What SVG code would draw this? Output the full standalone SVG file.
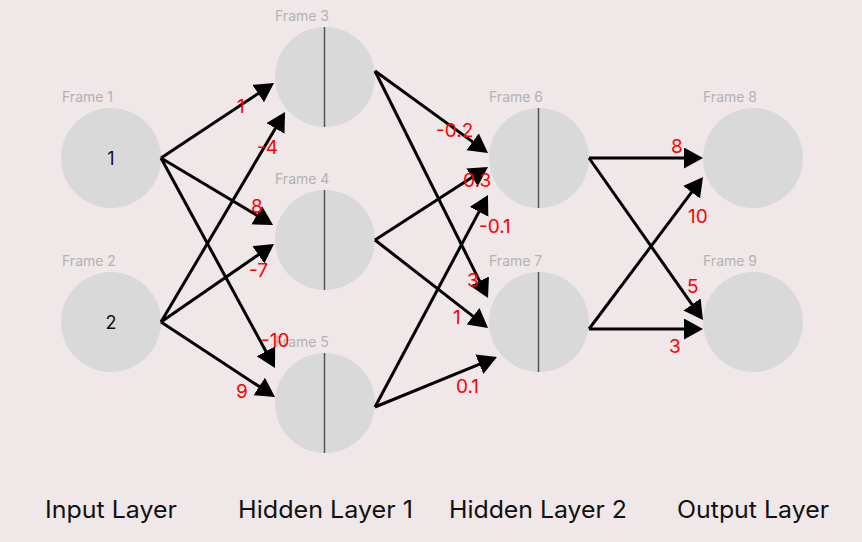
<svg xmlns="http://www.w3.org/2000/svg" width="862" height="542" viewBox="0 0 862 542">
  <defs>
    <style>
      .bg { fill: #efe7e8; }
      .node { fill: #d9d9d9; }
      .split { stroke: #555555; stroke-width: 1.5; }
      .frame { font-family: Inter, "Liberation Sans", sans-serif; font-size: 14px; fill: #b3b3b3; }
      .val { font-family: Inter, "Liberation Sans", sans-serif; font-size: 18px; fill: #111111; text-anchor: middle; }
      .edge { stroke: #000000; stroke-width: 3; fill: none; marker-end: url(#arrow); }
      .w { font-family: Inter, "Liberation Sans", sans-serif; font-size: 19px; fill: #ff0000; }
      .layer { font-family: Inter, "Liberation Sans", sans-serif; font-size: 24px; fill: #111111; }
    </style>
    <marker id="arrow" markerUnits="userSpaceOnUse" markerWidth="20" markerHeight="22" refX="1" refY="10.5" orient="auto">
      <path d="M0,0 L19,10.5 L0,21 Z" fill="#000000"/>
    </marker>
  </defs>
  <rect class="bg" x="0" y="0" width="862" height="542"/>

  <g id="frame1">
    <text class="frame" x="62" y="102">Frame 1</text>
    <circle class="node" cx="111" cy="158" r="50"/>
    <text class="val" x="111" y="165">1</text>
  </g>
  <g id="frame2">
    <text class="frame" x="62" y="266">Frame 2</text>
    <circle class="node" cx="111" cy="322" r="50"/>
    <text class="val" x="111" y="329">2</text>
  </g>
  <g id="frame3">
    <text class="frame" x="275" y="21">Frame 3</text>
    <circle class="node" cx="325" cy="77" r="50"/>
    <line class="split" x1="324.5" y1="27" x2="324.5" y2="127"/>
  </g>
  <g id="frame4">
    <text class="frame" x="275" y="184">Frame 4</text>
    <circle class="node" cx="325" cy="240" r="50"/>
    <line class="split" x1="324.5" y1="190" x2="324.5" y2="290"/>
  </g>
  <g id="frame5">
    <text class="frame" x="275" y="347">Frame 5</text>
    <circle class="node" cx="325" cy="403" r="50"/>
    <line class="split" x1="324.5" y1="353" x2="324.5" y2="453"/>
  </g>
  <g id="frame6">
    <text class="frame" x="489" y="102">Frame 6</text>
    <circle class="node" cx="539" cy="158" r="50"/>
    <line class="split" x1="538.5" y1="108" x2="538.5" y2="208"/>
  </g>
  <g id="frame7">
    <text class="frame" x="489" y="266">Frame 7</text>
    <circle class="node" cx="539" cy="322" r="50"/>
    <line class="split" x1="538.5" y1="272" x2="538.5" y2="372"/>
  </g>
  <g id="frame8">
    <text class="frame" x="703" y="102">Frame 8</text>
    <circle class="node" cx="753" cy="158" r="50"/>
  </g>
  <g id="frame9">
    <text class="frame" x="703" y="266">Frame 9</text>
    <circle class="node" cx="753" cy="322" r="50"/>
  </g>

  <g id="connectors">
    <line class="edge" x1="161" y1="158" x2="259" y2="93"/>
    <line class="edge" x1="161" y1="158" x2="257.6" y2="215.8"/>
    <line class="edge" x1="161" y1="158" x2="266.4" y2="352.2"/>
    <line class="edge" x1="161" y1="322" x2="275.9" y2="127.5"/>
    <line class="edge" x1="161" y1="322" x2="259.2" y2="254.2"/>
    <line class="edge" x1="161" y1="322" x2="260" y2="387.1"/>
    <line class="edge" x1="375" y1="71" x2="473.4" y2="142.4"/>
    <line class="edge" x1="375" y1="71" x2="480" y2="281.9"/>
    <line class="edge" x1="375" y1="240" x2="472.9" y2="176.8"/>
    <line class="edge" x1="375" y1="240" x2="473.8" y2="316.9"/>
    <line class="edge" x1="375" y1="407" x2="479.5" y2="210.9"/>
    <line class="edge" x1="375" y1="407" x2="480.3" y2="363.8"/>
    <line class="edge" x1="589" y1="158" x2="685" y2="158"/>
    <line class="edge" x1="589" y1="158" x2="692.6" y2="305.3"/>
    <line class="edge" x1="589" y1="329" x2="692.2" y2="191.4"/>
    <line class="edge" x1="589" y1="329" x2="685" y2="329"/>
  </g>

  <g id="weights">
    <text class="w" x="237" y="113">1</text>
    <text class="w" x="257" y="154">-4</text>
    <text class="w" x="251" y="213">8</text>
    <text class="w" x="249" y="277">-7</text>
    <text class="w" x="261" y="347">-10</text>
    <text class="w" x="236" y="398">9</text>
    <text class="w" x="436" y="137">-0.2</text>
    <text class="w" x="463" y="187">0.3</text>
    <text class="w" x="479" y="233">-0.1</text>
    <text class="w" x="467" y="287">3</text>
    <text class="w" x="453" y="324">1</text>
    <text class="w" x="456" y="393">0.1</text>
    <text class="w" x="671" y="153">8</text>
    <text class="w" x="688" y="223">10</text>
    <text class="w" x="687" y="293">5</text>
    <text class="w" x="669" y="353">3</text>
  </g>

  <g id="layer-labels">
    <text class="layer" x="45" y="518" textLength="132" lengthAdjust="spacingAndGlyphs">Input Layer</text>
    <text class="layer" x="238" y="518" textLength="175" lengthAdjust="spacingAndGlyphs">Hidden Layer 1</text>
    <text class="layer" x="449" y="518" textLength="178" lengthAdjust="spacingAndGlyphs">Hidden Layer 2</text>
    <text class="layer" x="677" y="518" textLength="152" lengthAdjust="spacingAndGlyphs">Output Layer</text>
  </g>
</svg>
